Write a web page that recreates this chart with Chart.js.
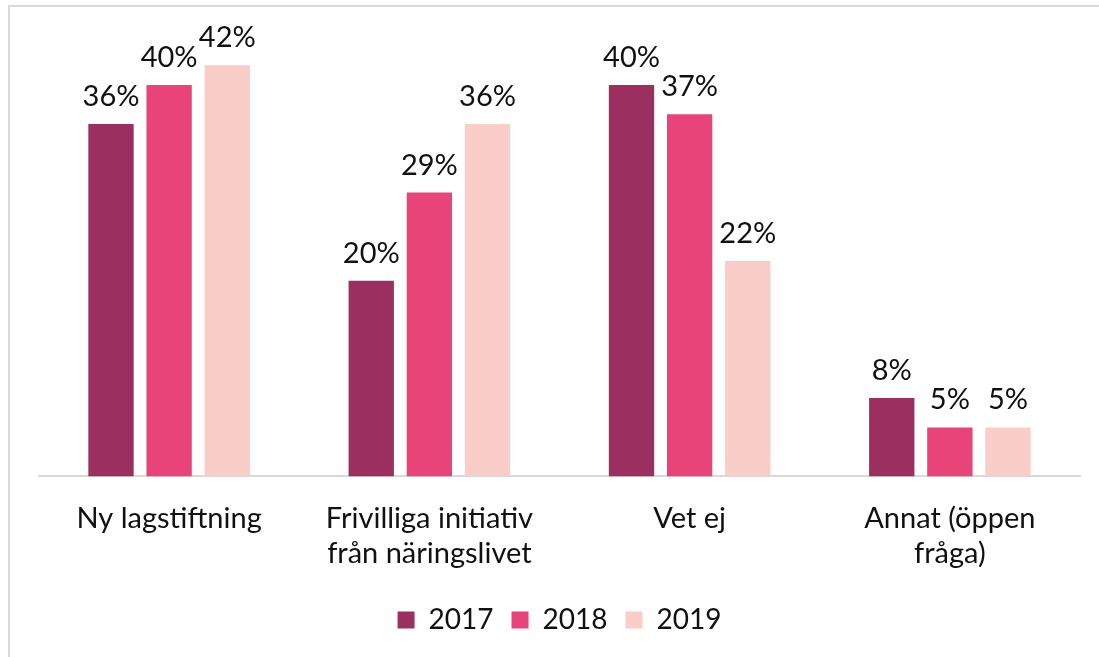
<!DOCTYPE html>
<html>
<head>
<meta charset="utf-8">
<script src="https://cdn.jsdelivr.net/npm/chart.js@4/dist/chart.umd.min.js"></script>
<style>
  html, body { margin: 0; padding: 0; background: #ffffff; }
  #wrap { position: relative; width: 1099px; height: 657px; }
</style>
</head>
<body>
<div id="wrap"><canvas id="chart" width="1099" height="657"></canvas></div>
<script>
// Data
const categories = [
    'Ny lagstiftning',
    ['Frivilliga initiativ', 'från näringslivet'],
    'Vet ej',
    ['Annat (öppen', 'fråga)']
];
const years = ['2017', '2018', '2019'];
const values2017 = [36, 20, 40, 8];
const values2018 = [40, 29, 37, 5];
const values2019 = [42, 36, 22, 5];

const fontFamily = "'Lato', sans-serif";
const colors = ['#9b2f5f', '#e9447a', '#f9cdc8'];
const axisColor = '#d9d9d9';

// Value labels above each bar
const valueLabels = {
    id: 'valueLabels',
    afterDatasetsDraw(chart) {
        const ctx = chart.ctx;
        ctx.save();
        ctx.font = '29px ' + fontFamily;
        ctx.fillStyle = '#111111';
        ctx.textAlign = 'center';
        ctx.textBaseline = 'alphabetic';
        chart.data.datasets.forEach((ds, i) => {
            chart.getDatasetMeta(i).data.forEach((bar, j) => {
                ctx.fillText(ds.data[j] + '%', bar.x, bar.y - 18);
            });
        });
        ctx.restore();
    }
};

// Thin frame lines at the top and left edge
const frame = {
    id: 'frame',
    beforeDraw(chart) {
        const ctx = chart.ctx;
        ctx.save();
        ctx.strokeStyle = axisColor;
        ctx.lineWidth = 2;
        ctx.beginPath();
        ctx.moveTo(9, chart.height);
        ctx.lineTo(9, 6);
        ctx.lineTo(chart.width, 6);
        ctx.stroke();
        ctx.restore();
    }
};

new Chart(document.getElementById('chart'), {
    type: 'bar',
    data: {
        labels: categories,
        datasets: [
            { label: years[0], data: values2017, backgroundColor: colors[0] },
            { label: years[1], data: values2018, backgroundColor: colors[1] },
            { label: years[2], data: values2019, backgroundColor: colors[2] }
        ]
    },
    options: {
        responsive: false,
        animation: false,
        layout: { padding: { left: 39, right: 19, top: 36, bottom: 13 } },
        datasets: {
            bar: { categoryPercentage: 0.67, barPercentage: 0.78 }
        },
        plugins: {
            legend: {
                position: 'bottom',
                labels: {
                    boxWidth: 17,
                    boxHeight: 17,
                    padding: 18,
                    color: '#111111',
                    font: { family: fontFamily, size: 28 }
                }
            },
            tooltip: { enabled: false }
        },
        scales: {
            x: {
                grid: { display: false },
                border: { color: axisColor, width: 2 },
                ticks: {
                    color: '#111111',
                    padding: 17,
                    font: { family: fontFamily, size: 29, lineHeight: 1.2 }
                }
            },
            y: {
                display: false,
                min: 0,
                max: 45
            }
        }
    },
    plugins: [valueLabels, frame]
});
</script>
</body>
</html>
